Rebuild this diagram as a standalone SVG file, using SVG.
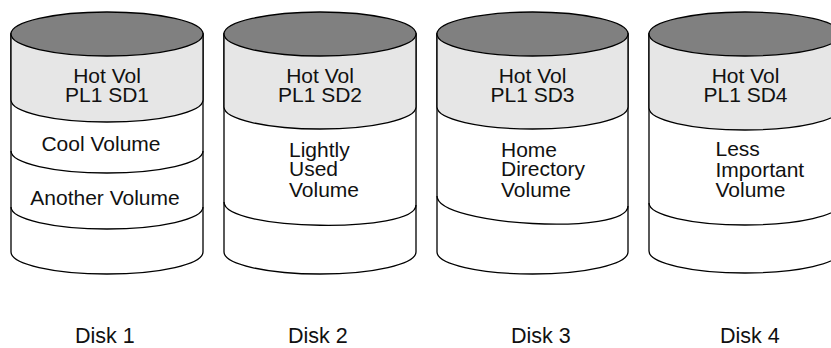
<svg xmlns="http://www.w3.org/2000/svg" width="831" height="348" viewBox="0 0 831 348">
<style>
.body{fill:#ffffff;stroke:#000;stroke-width:1.3}
.band{fill:#e6e6e6;stroke:#000;stroke-width:1.3}
.top{fill:#808080;stroke:#000;stroke-width:1.3}
.line{fill:none;stroke:#000;stroke-width:1.3}
text{font-family:"Liberation Sans",Arial,sans-serif;font-size:21px;fill:#111}
.c{text-anchor:middle}
.lbl{font-size:21.5px}
</style>
<rect width="831" height="348" fill="#ffffff"/>
<g id="disk1">
<path class="body" d="M11,34 L11,252 A96,22 0 0 0 203,252 L203,34 Z"/>
<path class="band" d="M11,34 L11,100 A96,22 0 0 0 203,100 L203,34 Z"/>
<ellipse class="top" cx="107" cy="34" rx="96" ry="22"/>
<path class="line" d="M11,151 A96,22 0 0 0 203,151"/>
<path class="line" d="M11,207 A96,22 0 0 0 203,207"/>
<text class="c" x="107" y="83">Hot Vol</text>
<text class="c" x="107" y="102">PL1 SD1</text>
<text class="c" x="101" y="151">Cool Volume</text>
<text class="c" x="105" y="205">Another Volume</text>
<text class="lbl" x="75" y="343">Disk 1</text>
</g>
<g id="disk2">
<path class="body" d="M224,34 L224,252 A96,22 0 0 0 416,252 L416,34 Z"/>
<path class="band" d="M224,34 L224,107 A96,22 0 0 0 416,107 L416,34 Z"/>
<ellipse class="top" cx="320" cy="34" rx="96" ry="22"/>
<path class="line" d="M224,202 C224,231 416,234 416,205"/>
<text class="c" x="320" y="83">Hot Vol</text>
<text class="c" x="320" y="102">PL1 SD2</text>
<text x="289" y="157">Lightly</text>
<text x="289" y="176">Used</text>
<text x="289" y="197">Volume</text>
<text class="lbl" x="288" y="343">Disk 2</text>
</g>
<g id="disk3">
<path class="body" d="M437,34 L437,252 A95.5,22 0 0 0 628,252 L628,34 Z"/>
<path class="band" d="M437,34 L437,107 A95.5,22 0 0 0 628,107 L628,34 Z"/>
<ellipse class="top" cx="532.5" cy="34" rx="95.5" ry="22"/>
<path class="line" d="M437,196 C437,226 628,236 628,206"/>
<text class="c" x="532.5" y="83">Hot Vol</text>
<text class="c" x="532.5" y="102">PL1 SD3</text>
<text x="501" y="157">Home</text>
<text x="501" y="176">Directory</text>
<text x="501" y="197">Volume</text>
<text class="lbl" x="511" y="343">Disk 3</text>
</g>
<g id="disk4">
<path class="body" d="M649,34 L649,251 A96,22 0 0 0 841,251 L841,34 Z"/>
<path class="band" d="M649,34 L649,108 A96,22 0 0 0 841,108 L841,34 Z"/>
<ellipse class="top" cx="745" cy="34" rx="96" ry="22"/>
<path class="line" d="M649,203 A96,22 0 0 0 841,203"/>
<text class="c" x="745.5" y="83">Hot Vol</text>
<text class="c" x="745.5" y="102">PL1 SD4</text>
<text x="715.5" y="156">Less</text>
<text x="715.5" y="176.5">Important</text>
<text x="715.5" y="196.5">Volume</text>
<text class="lbl" x="720" y="343">Disk 4</text>
</g>
<g id="connectors"></g>
</svg>
